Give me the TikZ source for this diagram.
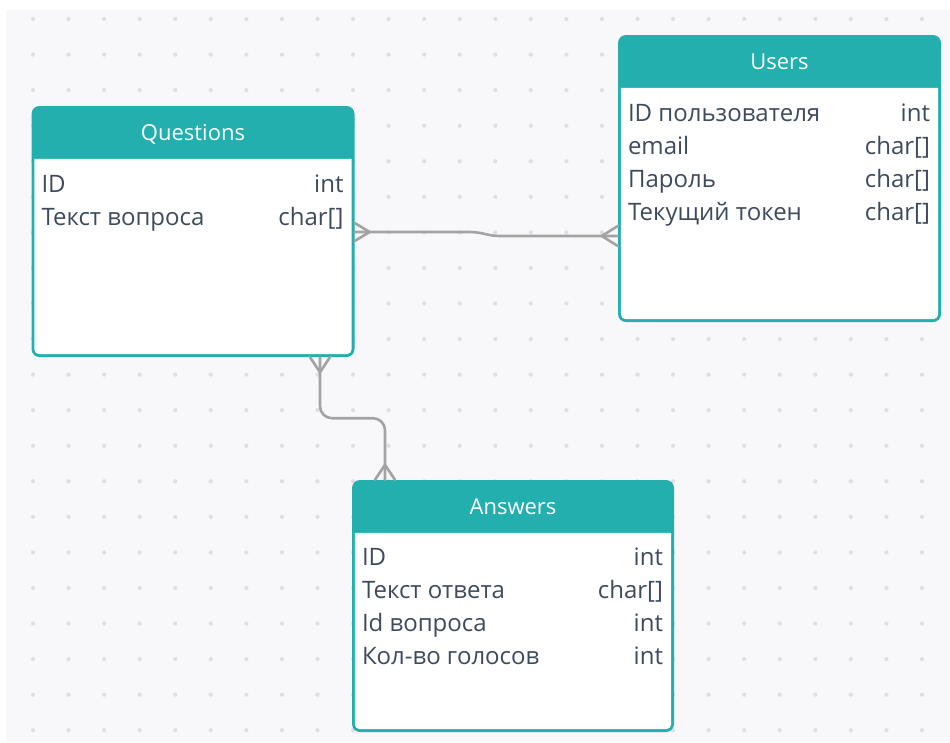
\documentclass[tikz,border=0pt]{standalone}
\usepackage{fontspec}
\setmainfont{Open Sans}
\definecolor{teal1}{HTML}{22AFAD}
\definecolor{txt}{HTML}{3F4B5D}
\definecolor{bg}{HTML}{F8F8FB}
\definecolor{dot}{HTML}{DEDEE3}
\definecolor{conn}{HTML}{A3A3A3}
\tikzset{
  tbl/.style={rectangle, rounded corners=8pt, fill=teal1, draw=none, inner sep=0pt},
  ttl/.style={text=white, font=\fontsize{22}{26}\selectfont, inner sep=0pt, anchor=base},
  fld/.style={text=txt, font=\fontsize{24}{28}\selectfont, inner sep=0pt, anchor=base west},
  typ/.style={text=txt, font=\fontsize{24}{28}\selectfont, inner sep=0pt, anchor=base east},
  cn/.style={draw=conn, line width=2.6pt, line cap=round, line join=round},
}
\begin{document}
\begin{tikzpicture}[x=1pt,y=-1pt]
\useasboundingbox (0,0) rectangle (950,742);
\fill[bg] (6,10) rectangle (950,742);
\foreach \i in {0,...,25}{
  \foreach \j in {0,...,20}{
    \fill[dot] ({33+35.56*\i},{19+35.56*\j}) circle (2.1pt);
  }
}
% tables
\node[tbl, minimum width=323pt, minimum height=251pt] (Q) at (193,231.5) {};
\node[tbl, minimum width=323pt, minimum height=287pt] (U) at (779.5,178.5) {};
\node[tbl, minimum width=322pt, minimum height=252pt] (A) at (513,606) {};
\foreach \n in {Q,U,A}{
  \fill[white] ([shift={(3,53)}]\n.north west) -- ([shift={(-3,53)}]\n.north east)
    [rounded corners=5pt] -- ([shift={(-3,-3)}]\n.south east) -- ([shift={(3,-3)}]\n.south west)
    [sharp corners] -- cycle;
}
% titles
\node[ttl] (qt) at ([yshift=-35pt]Q.north) {Questions};
\node[ttl] (ut) at ([yshift=-35pt]U.north) {Users};
\node[ttl] (att) at ([yshift=-35pt]A.north) {Answers};
% Questions fields
\node[fld] (q1) at ([shift={(10,86.5)}]Q.north west) {ID};
\node[typ] (q1t) at ([shift={(-11,86.5)}]Q.north east) {int};
\node[fld] (q2) at ([shift={(10,119.5)}]Q.north west) {Текст вопроса};
\node[typ] (q2t) at ([shift={(-11,119.5)}]Q.north east) {char[]};
% Users fields
\node[fld] (u1) at ([shift={(10,86.5)}]U.north west) {ID пользователя};
\node[typ] (u1t) at ([shift={(-11,86.5)}]U.north east) {int};
\node[fld] (u2) at ([shift={(10,119.5)}]U.north west) {email};
\node[typ] (u2t) at ([shift={(-11,119.5)}]U.north east) {char[]};
\node[fld] (u3) at ([shift={(10,152.5)}]U.north west) {Пароль};
\node[typ] (u3t) at ([shift={(-11,152.5)}]U.north east) {char[]};
\node[fld] (u4) at ([shift={(10,185.5)}]U.north west) {Текущий токен};
\node[typ] (u4t) at ([shift={(-11,185.5)}]U.north east) {char[]};
% Answers fields
\node[fld] (a1) at ([shift={(10,86)}]A.north west) {ID};
\node[typ] (a1t) at ([shift={(-11,86)}]A.north east) {int};
\node[fld] (a2) at ([shift={(10,119)}]A.north west) {Текст ответа};
\node[typ] (a2t) at ([shift={(-11,119)}]A.north east) {char[]};
\node[fld] (a3) at ([shift={(10,152)}]A.north west) {Id вопроса};
\node[typ] (a3t) at ([shift={(-11,152)}]A.north east) {int};
\node[fld] (a4) at ([shift={(10,185)}]A.north west) {Кол-во голосов};
\node[typ] (a4t) at ([shift={(-11,185)}]A.north east) {int};
% connector Questions - Users
\coordinate (qe) at ([shift={(0,0.5)}]Q.east);
\coordinate (uw) at ([shift={(0,57.5)}]U.west);
\coordinate (j1) at (468,232);
\coordinate (j2) at (502,236);
\draw[cn] (qe) -- (j1) .. controls +(17,0) and +(-17,0) .. (j2) -- (uw);
\draw[cn] ([shift={(0,-9)}]qe) -- ([shift={(15,0)}]qe) -- ([shift={(0,9)}]qe);
\draw[cn] ([shift={(0,-10)}]uw) -- ([shift={(-16,0)}]uw) -- ([shift={(0,10)}]uw);
% connector Questions - Answers
\coordinate (qb) at ([shift={(127,0)}]Q.south);
\coordinate (at) at ([shift={(-128,0)}]A.north);
\draw[cn, rounded corners=12pt] (qb) -- ++(0,61) -| (at);
\draw[cn] ([shift={(-10,0)}]qb) -- ([shift={(0,15)}]qb) -- ([shift={(10,0)}]qb);
\draw[cn] ([shift={(-10,0)}]at) -- ([shift={(0,-15)}]at) -- ([shift={(10,0)}]at);
\end{tikzpicture}
\end{document}
